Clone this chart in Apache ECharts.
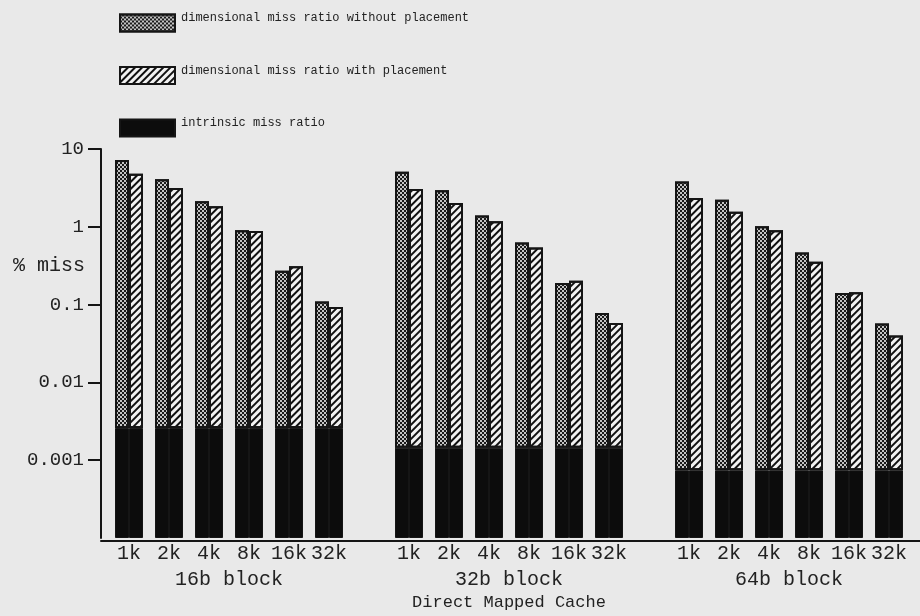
<!DOCTYPE html>
<html>
<head>
<meta charset="utf-8">
<script src="https://cdn.jsdelivr.net/npm/echarts@6/dist/echarts.min.js"></script>
<style>
  html, body { margin: 0; padding: 0; background: #e9e9e9; }
  #main { width: 920px; height: 616px; }
</style>
</head>
<body>
<div id="main"></div>
<script>
// cache sizes, one empty slot between block groups
const cacheSizes = ['1k', '2k', '4k', '8k', '16k', '32k', '',
                    '1k', '2k', '4k', '8k', '16k', '32k', '',
                    '1k', '2k', '4k', '8k', '16k', '32k'];
const blockLabels = ['16b block', '32b block', '64b block'];
// % miss
const withoutPlacement = [7.2, 4.1, 2.13, 0.90, 0.272, 0.110, null,
                          5.1, 2.94, 1.40, 0.627, 0.19, 0.078, null,
                          3.83, 2.23, 1.02, 0.467, 0.141, 0.057];
const withPlacement = [4.8, 3.16, 1.84, 0.88, 0.31, 0.093, null,
                       3.06, 2.03, 1.18, 0.54, 0.203, 0.058, null,
                       2.35, 1.56, 0.90, 0.355, 0.144, 0.040];
const intrinsic = [0.0026, 0.0026, 0.0026, 0.0026, 0.0026, 0.0026, null,
                   0.00145, 0.00145, 0.00145, 0.00145, 0.00145, 0.00145, null,
                   0.00074, 0.00074, 0.00074, 0.00074, 0.00074, 0.00074];
const yTickValues = [0.001, 0.01, 0.1, 1, 10];
const yTickLabels = ['0.001', '0.01', '0.1', '1', '10'];

const nameWithout = 'dimensional miss ratio without placement';
const nameWith = 'dimensional miss ratio with placement';
const nameIntrinsic = 'intrinsic miss ratio';

const FONT = "'Liberation Mono', 'DejaVu Sans Mono', monospace";
const INK = '#151515';

// the patterned part sits on top of the intrinsic part
function upper(total) {
  return total.map((v, i) => v == null ? null : v - intrinsic[i]);
}

const checker = {
  symbol: 'rect', color: '#1a1a1a',
  dashArrayX: [[2, 2], [0, 2, 2, 0]], dashArrayY: [2, 0]
};
const stripes = {
  symbol: 'rect', color: '#111',
  dashArrayX: [1, 0], dashArrayY: [2, 3], rotation: -Math.PI / 4
};

const chart = echarts.init(document.getElementById('main'));
const option = {
  backgroundColor: '#e9e9e9',
  animation: false,
  legend: {
    orient: 'vertical',
    left: 114, top: 7,
    icon: 'rect',
    itemWidth: 55, itemHeight: 17, itemGap: 32,
    data: [nameWithout, nameWith, nameIntrinsic],
    // text sits a little above the middle of its swatch
    formatter: name => '{t|' + name + '}',
    textStyle: {
      fontFamily: FONT, fontSize: 12, color: '#222',
      rich: { t: { fontFamily: FONT, fontSize: 12, color: '#222', padding: [0, 0, 10, 1] } }
    }
  },
  grid: [
    { left: 109, right: 11, top: 149, bottom: 75 },
    { left: 101, right: 0, top: 149, bottom: 75 }
  ],
  xAxis: [
    {
      type: 'category', gridIndex: 0, data: cacheSizes,
      axisLine: { show: false }, axisTick: { show: false },
      axisLabel: { interval: 0, margin: 6, fontFamily: FONT, fontSize: 20, color: '#222' },
      name: 'Direct Mapped Cache', nameLocation: 'middle', nameGap: 56,
      nameTextStyle: { fontFamily: FONT, fontSize: 17, color: '#222' }
    },
    {
      type: 'value', gridIndex: 1, min: 0, max: 1,
      axisLine: { show: true, onZero: false, lineStyle: { color: INK, width: 2 } },
      axisTick: { show: false }, axisLabel: { show: false }, splitLine: { show: false }
    }
  ],
  yAxis: [
    {
      type: 'log', gridIndex: 0, logBase: 10, min: 0.0001, max: 10, startValue: 0.0001,
      offset: 8,
      axisLine: { show: true, lineStyle: { color: INK, width: 2 } },
      axisTick: { show: true, length: 13, customValues: yTickValues, lineStyle: { color: INK, width: 2 } },
      axisLabel: {
        margin: 17, fontFamily: FONT, fontSize: 19, color: '#222',
        customValues: yTickValues,
        formatter: v => {
          const i = yTickValues.findIndex(t => Math.abs(Math.log10(t) - Math.log10(v)) < 1e-6);
          return i < 0 ? '' : yTickLabels[i];
        }
      },
      splitLine: { show: false }
    },
    { type: 'value', gridIndex: 1, show: false }
  ],
  series: [
    {
      name: nameIntrinsic, type: 'bar', stack: 'without', barWidth: 14, barGap: '0%',
      data: intrinsic,
      itemStyle: { color: '#0c0c0c', borderColor: INK, borderWidth: 1 }
    },
    {
      name: nameWithout, type: 'bar', stack: 'without', barWidth: 14, barGap: '0%',
      data: upper(withoutPlacement),
      itemStyle: { color: '#c4c4c4', borderColor: INK, borderWidth: 2, decal: checker }
    },
    {
      name: nameIntrinsic, type: 'bar', stack: 'with', barWidth: 14, barGap: '0%',
      data: intrinsic,
      itemStyle: { color: '#0c0c0c', borderColor: INK, borderWidth: 1 }
    },
    {
      name: nameWith, type: 'bar', stack: 'with', barWidth: 14, barGap: '0%',
      data: upper(withPlacement),
      itemStyle: { color: '#f2f2f2', borderColor: INK, borderWidth: 2, decal: stripes }
    }
  ]
};
chart.setOption(option);

// block labels under the middle of each group of six
const texts = blockLabels.map((label, g) => {
  const a = chart.convertToPixel({ xAxisIndex: 0 }, g * 7 + 2);
  const b = chart.convertToPixel({ xAxisIndex: 0 }, g * 7 + 3);
  return {
    type: 'text', x: (a + b) / 2, y: 580,
    style: { text: label, font: '20px ' + FONT, fill: '#222',
             align: 'center', verticalAlign: 'middle', textAlign: 'center', textVerticalAlign: 'middle' }
  };
});
texts.push({
  type: 'text', x: 85, y: 266,
  style: { text: '% miss', font: '20px ' + FONT, fill: '#222',
           align: 'right', verticalAlign: 'middle', textAlign: 'right', textVerticalAlign: 'middle' }
});
chart.setOption({ graphic: texts });
</script>
</body>
</html>
